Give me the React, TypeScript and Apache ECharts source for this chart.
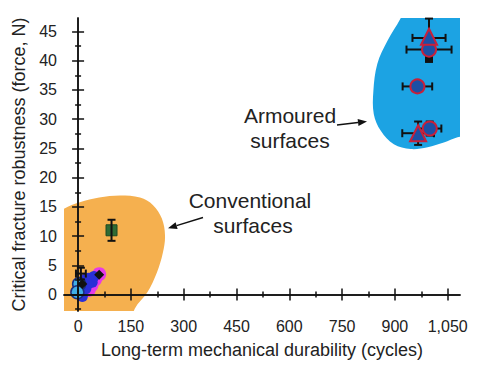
import React, { useEffect, useRef } from "react";
import * as echarts from "echarts";

// Axis extents and ticks
const xMin = -40;
const xMax = 1085;
const yMin = -2.8;
const yMax = 47.3;
const xMajorTicks = [0, 150, 300, 450, 600, 750, 900, 1050];
const xMinorTicks = [75, 225, 375, 525, 675, 825, 975];
const yMajorTicks = [0, 5, 10, 15, 20, 25, 30, 35, 40, 45];
const yMinorTicks = [-2.5, 2.5, 7.5, 12.5, 17.5, 22.5, 27.5, 32.5, 37.5, 42.5];

// Shaded regions (outline in data coordinates)
const conventionalRegion = [
  [-70, 13.3], [-40, 14.7], [5, 15.8], [60, 16.6], [119, 16.95], [176, 16.6],
  [213, 15.3], [238, 13.0], [247, 10.1], [241, 7.2], [224, 3.8], [196, 0.3],
  [161, -2.4], [140, -6], [-70, -6],
];
const armouredRegion = [
  [945, 51], [916, 47.2], [879, 43.4], [850, 39.45], [839, 34.9], [840, 30.9],
  [860, 28.0], [897, 25.7], [945, 24.9], [993, 25.2], [1039, 26.0], [1078, 26.9],
  [1120, 27.5], [1130, 52],
];

// Data: [x, y, xError, yError]
const armouredErrors = [
  [997, 43.9, 47, 3.3],
  [997, 41.9, 64, 0],
  [964, 35.6, 42, 0.8],
  [966, 27.6, 45, 2.0],
  [999, 28.4, 33, 1.2],
];
const conventionalErrors = [
  [95, 11, 0, 1.8],
  [8, 3.6, 14, 1.0],
];
const armouredCircles = [[997, 41.9], [964, 35.6], [999, 28.4]];
const armouredTriangles = [[997, 44.1], [966, 27.6]];
const armouredSquares = [[997, 40.3]];
const conventionalSquares = [[95, 11]];
const magentaPoints = [[60, 3.5], [48, 2.6], [38, 1.6], [30, 0.8]];
const bluePoints = [[30, 2.8], [40, 2.1], [22, 1.0], [12, -0.3], [45, 3.1], [18, 2.6], [28, 1.8]];
const cyanPoints = [[3, 1.8], [-2, 0.4]];
const blackDiamonds = [[60, 3.4], [12, 1.8]];

const FONT = '"Liberation Sans", Arial, Helvetica, sans-serif';
const TEXT = "#222";

function errRender(params: any, api: any) {
  const x = api.value(0), y = api.value(1), xe = api.value(2), ye = api.value(3);
  const style = { stroke: "#111", lineWidth: 2 };
  const cap = 4;
  const ch: any[] = [];
  if (xe > 0) {
    const a = api.coord([x - xe, y]);
    const b = api.coord([x + xe, y]);
    ch.push({ type: "line", shape: { x1: a[0], y1: a[1], x2: b[0], y2: b[1] }, style });
    ch.push({ type: "line", shape: { x1: a[0], y1: a[1] - cap, x2: a[0], y2: a[1] + cap }, style });
    ch.push({ type: "line", shape: { x1: b[0], y1: b[1] - cap, x2: b[0], y2: b[1] + cap }, style });
  }
  if (ye > 0) {
    const a = api.coord([x, y - ye]);
    const b = api.coord([x, y + ye]);
    ch.push({ type: "line", shape: { x1: a[0], y1: a[1], x2: b[0], y2: b[1] }, style });
    ch.push({ type: "line", shape: { x1: a[0] - cap, y1: a[1], x2: a[0] + cap, y2: a[1] }, style });
    ch.push({ type: "line", shape: { x1: b[0] - cap, y1: b[1], x2: b[0] + cap, y2: b[1] }, style });
  }
  return { type: "group", children: ch };
}

function blobRender(points: number[][], color: string) {
  return (params: any, api: any) => {
    if (params.dataIndex !== 0) return null;
    const pts = points.map((p) => api.coord(p));
    return { type: "polygon", shape: { points: pts, smooth: 0.35 }, style: { fill: color } };
  };
}

function arrow(x1: number, y1: number, x2: number, y2: number) {
  const dx = x2 - x1, dy = y2 - y1;
  const len = Math.hypot(dx, dy);
  const ux = dx / len, uy = dy / len;
  const nx = -uy, ny = ux;
  const L = 9, W = 3.5;
  const bx = x2 - L * ux, by = y2 - L * uy;
  return [
    { type: "line", shape: { x1, y1, x2: bx, y2: by }, style: { stroke: "#111", lineWidth: 1.5 } },
    {
      type: "polygon",
      shape: { points: [[x2, y2], [bx + W * nx, by + W * ny], [bx - W * nx, by - W * ny]] },
      style: { fill: "#111" },
    },
  ];
}

export default function App() {
  const ref = useRef<HTMLDivElement>(null);
  useEffect(() => {
    if (!ref.current) return;
    const chart = echarts.init(ref.current, undefined, { renderer: "svg" });
    const axisLine = { show: true, lineStyle: { color: "#111", width: 1.5 } };
    const xBase = { type: "value", min: xMin, max: xMax, splitLine: { show: false }, z: 10 };
    const yBase = { type: "value", min: yMin, max: yMax, splitLine: { show: false }, z: 10 };
    const tickStyle = { color: "#111", width: 1.5 };
    const option: any = {
      animation: false,
      backgroundColor: "#fff",
      grid: { left: 64, right: 19, top: 18, bottom: 69 },
      xAxis: [
        {
          ...xBase,
          position: "bottom",
          axisLine,
          axisTick: { show: true, inside: true, length: 6, lineStyle: tickStyle, customValues: xMajorTicks },
          axisLabel: {
            customValues: xMajorTicks,
            color: TEXT,
            fontSize: 16,
            fontFamily: FONT,
            margin: 7,
            formatter: (v: number) => (v >= 1000 ? Math.floor(v / 1000) + "," + String(v % 1000).padStart(3, "0") : String(v)),
          },
          name: "Long-term mechanical durability (cycles)",
          nameLocation: "middle",
          nameGap: 30,
          nameTextStyle: { color: TEXT, fontSize: 18, fontFamily: FONT },
        },
        {
          ...xBase,
          position: "bottom",
          axisLine: { show: false },
          axisTick: { show: true, inside: true, length: 3, lineStyle: tickStyle, customValues: xMinorTicks },
          axisLabel: { show: false },
        },
        {
          ...xBase,
          position: "top",
          axisLine,
          axisTick: { show: true, inside: true, length: 6, lineStyle: tickStyle, customValues: xMajorTicks },
          axisLabel: { show: false },
        },
        {
          ...xBase,
          position: "top",
          axisLine: { show: false },
          axisTick: { show: true, inside: true, length: 3, lineStyle: tickStyle, customValues: xMinorTicks },
          axisLabel: { show: false },
        },
      ],
      yAxis: [
        {
          ...yBase,
          position: "left",
          axisLine,
          axisTick: { show: true, inside: true, length: 6, lineStyle: tickStyle, customValues: yMajorTicks },
          axisLabel: { customValues: yMajorTicks, color: TEXT, fontSize: 16, fontFamily: FONT, margin: 7 },
          name: "Critical fracture robustness (force, N)",
          nameLocation: "middle",
          nameGap: 35,
          nameTextStyle: { color: TEXT, fontSize: 18, fontFamily: FONT },
        },
        {
          ...yBase,
          position: "left",
          axisLine: { show: false },
          axisTick: { show: true, inside: true, length: 3, lineStyle: tickStyle, customValues: yMinorTicks },
          axisLabel: { show: false },
        },
        {
          ...yBase,
          position: "right",
          axisLine,
          axisTick: { show: true, inside: true, length: 6, lineStyle: tickStyle, customValues: yMajorTicks },
          axisLabel: { show: false },
        },
        {
          ...yBase,
          position: "right",
          axisLine: { show: false },
          axisTick: { show: true, inside: true, length: 3, lineStyle: tickStyle, customValues: yMinorTicks },
          axisLabel: { show: false },
        },
      ],
      series: [
        { type: "custom", z: 1, clip: true, renderItem: blobRender(conventionalRegion, "#f5b04f"), data: conventionalRegion, silent: true },
        { type: "custom", z: 1, clip: true, renderItem: blobRender(armouredRegion, "#1ca3e3"), data: armouredRegion, silent: true },
        { type: "custom", z: 3, renderItem: errRender, data: armouredErrors, encode: { x: 0, y: 1 } },
        { type: "custom", z: 8, renderItem: errRender, data: conventionalErrors, encode: { x: 0, y: 1 } },
        {
          type: "scatter", z: 4, data: conventionalSquares, symbol: "rect", symbolSize: 11,
          itemStyle: { color: "#2f6b34", borderColor: "#1d4a22", borderWidth: 1, opacity: 1 },
        },
        {
          type: "scatter", z: 4, data: magentaPoints, symbol: "circle", symbolSize: 14,
          itemStyle: { color: "#e63ae8", opacity: 1 },
        },
        {
          type: "scatter", z: 5, data: bluePoints, symbol: "circle", symbolSize: 11,
          itemStyle: { color: "#2a2fd6", opacity: 1 },
        },
        {
          type: "scatter", z: 6, data: cyanPoints, symbol: "circle", symbolSize: 13,
          itemStyle: { color: "#40aee8", borderColor: "#1a2f80", borderWidth: 1.5, opacity: 1 },
        },
        {
          type: "scatter", z: 7, data: blackDiamonds, symbol: "diamond", symbolSize: 10,
          itemStyle: { color: "#111", opacity: 1 },
        },
        {
          type: "scatter", z: 4, data: armouredSquares, symbol: "rect", symbolSize: 8,
          itemStyle: { color: "#111", opacity: 1 },
        },
        {
          type: "scatter", z: 5, data: armouredCircles, symbol: "circle", symbolSize: 14,
          itemStyle: { color: "#1d4fa5", borderColor: "#c8203a", borderWidth: 2, opacity: 1 },
        },
        {
          type: "scatter", z: 6, data: armouredTriangles, symbol: "triangle", symbolSize: 16,
          itemStyle: { color: "#1d4fa5", borderColor: "#c8203a", borderWidth: 2, opacity: 1 },
        },
      ],
      graphic: [
        { type: "text", x: 290, y: 115, style: { text: "Armoured", font: `21px ${FONT}`, fill: TEXT, textAlign: "center", textVerticalAlign: "middle" } },
        { type: "text", x: 290, y: 140, style: { text: "surfaces", font: `21px ${FONT}`, fill: TEXT, textAlign: "center", textVerticalAlign: "middle" } },
        { type: "text", x: 250, y: 200, style: { text: "Conventional", font: `21px ${FONT}`, fill: TEXT, textAlign: "center", textVerticalAlign: "middle" } },
        { type: "text", x: 253, y: 225, style: { text: "surfaces", font: `21px ${FONT}`, fill: TEXT, textAlign: "center", textVerticalAlign: "middle" } },
        ...arrow(337, 125, 367, 121.5),
        ...arrow(203, 217.5, 168, 228.3),
      ],
    };
    chart.setOption(option);
    return () => chart.dispose();
  }, []);
  return (
    <div
      ref={ref}
      style={{ position: "fixed", left: 0, top: 0, width: 479, height: 380, background: "#fff" }}
    />
  );
}
